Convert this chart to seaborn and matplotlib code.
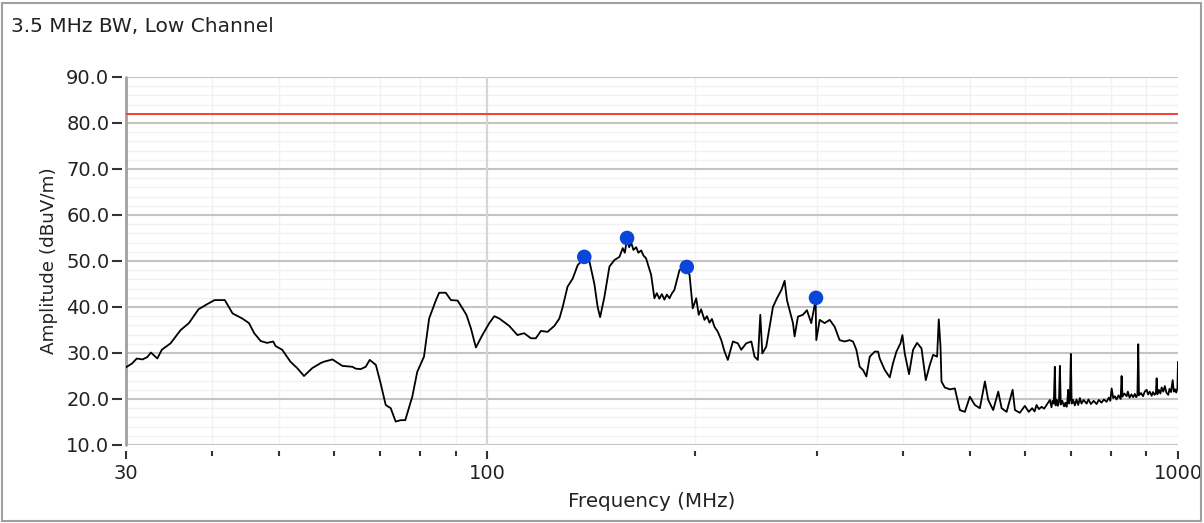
import numpy as np
import pandas as pd
import matplotlib
matplotlib.use("Agg")
import matplotlib.pyplot as plt
import seaborn as sns
from matplotlib.ticker import FixedLocator, FixedFormatter, NullFormatter
from matplotlib.patches import Rectangle

# ---------------- data ----------------
title_text = "3.5 MHz BW, Low Channel"
x_label = "Frequency (MHz)"
y_label = "Amplitude (dBuV/m)"

freq_mhz = [
    30.0, 30.6, 31.1, 31.7, 32.2, 32.6, 33.3, 33.8, 34.8, 36.0, 37.0, 38.2, 39.3, 40.3, 41.7,
    42.8, 44.2, 45.2, 46.0, 47.0, 48.0, 49.0, 49.4, 50.5, 51.9, 53.1, 54.3, 55.8, 57.4, 58.0,
    59.7, 60.7, 61.7, 63.8, 64.5, 65.6, 66.7, 67.6, 69.0, 70.1, 71.3, 72.5, 73.7, 75.0, 76.1,
    77.9, 79.2, 81.0, 82.4, 84.3, 85.2, 87.1, 88.6, 90.6, 92.1, 93.3, 94.7, 96.3, 98.4, 100.7,
    102.4, 104.1, 107.6, 110.6, 113.1, 115.7, 117.6, 119.6, 122.3, 125.1, 127.2, 128.6, 130.7,
    133.0, 135.2, 138.2, 140.6, 142.9, 144.5, 145.7, 147.8, 150.3, 152.8, 155.4,
    157.1, 158.2, 159.4, 160.5, 161.6, 162.8, 164.3, 165.5, 167.1, 168.3, 169.8, 172.7,
    174.6, 176.0, 177.5, 179.0, 180.5, 182.0, 183.6, 185.0, 186.6, 189.8, 193.0, 196.3,
    198.4, 200.7, 202.4, 204.0, 206.3, 208.0, 209.8, 211.5, 213.3, 215.7, 218.2, 220.6, 223.0,
    226.8, 230.6, 233.2, 237.1, 241.2, 243.8, 246.5, 248.5, 250.2, 253.5, 256.3, 259.2, 262.7,
    266.6, 269.5, 271.6, 274.0, 277.1, 278.6, 281.7, 286.4, 290.3, 294.5, 298.8, 299.5, 302.9,
    307.9, 313.2, 318.4, 323.7, 329.2, 334.7, 338.5, 342.3, 346.1, 350.0, 353.9, 357.9, 363.9,
    368.0, 370.0, 376.3, 382.6, 386.8, 391.2, 396.5, 399.1, 402.2, 408.0, 413.5, 419.1, 425.3,
    431.4, 437.2, 442.1, 448.0, 450.5, 453.1, 454.6, 459.6, 467.4, 475.3, 483.3, 491.4, 499.7,
    508.1, 516.6, 525.4, 531.2, 540.1, 549.3, 555.5, 564.8, 576.2, 580.7, 590.2, 600.2,
    608.0, 615.0, 620.0, 624.1, 629.0, 634.6, 640.0, 646.0, 652.4, 656.0, 658.0, 661.0, 663.3,
    665.0, 668.0, 670.0, 672.5, 674.6, 676.5, 680.0, 684.0, 687.0, 689.8, 691.5, 693.5, 695.5,
    697.5, 699.7, 701.5, 705.0, 709.0, 713.0, 717.0, 721.1, 725.0, 730.0, 737.4, 742.0, 748.0,
    755.0, 762.4, 768.0, 775.0, 781.0, 788.3, 794.0, 798.0, 801.5, 805.8, 810.0, 815.0, 820.0,
    826.0, 828.6, 831.0, 836.0, 842.7, 846.0, 851.0, 856.0, 861.3, 866.0, 870.0, 873.5, 875.9,
    878.0, 884.0, 890.0, 895.0, 900.7, 905.0, 910.0, 915.9, 920.0, 925.0, 929.0, 931.3, 933.5,
    938.0, 943.0, 947.0, 952.1, 957.0, 962.0, 968.0, 972.0, 977.0, 982.4, 986.0, 990.2, 994.0,
    998.0, 1000.0,
]

amp_dbuv = [
    26.9, 27.7, 28.8, 28.6, 29.1, 30.1, 28.8, 30.7, 32.1, 35.0, 36.5, 39.5, 40.6, 41.5, 41.5,
    38.6, 37.5, 36.5, 34.3, 32.6, 32.2, 32.5, 31.5, 30.7, 28.1, 26.7, 25.0, 26.7, 27.8, 28.1,
    28.6, 27.9, 27.2, 27.0, 26.6, 26.5, 27.0, 28.5, 27.4, 23.4, 18.7, 18.0, 15.1, 15.4, 15.4,
    20.5, 25.9, 29.2, 37.5, 41.5, 43.1, 43.1, 41.5, 41.4, 39.7, 38.3, 35.4, 31.2, 33.9, 36.5,
    38.0, 37.5, 35.9, 33.9, 34.3, 33.2, 33.2, 34.8, 34.6, 35.9, 37.5, 40.0, 44.4,
    46.2, 49.1, 50.6, 49.9, 45.1, 40.0, 37.8, 42.2, 48.8, 50.2, 50.9,
    52.8, 51.8, 54.9, 53.0, 54.0, 52.4, 53.0, 51.8, 52.3, 51.2, 50.6, 47.0,
    41.9, 43.0, 41.8, 42.8, 41.6, 42.7, 41.9, 42.9, 43.7, 48.0, 48.8, 47.0,
    39.7, 41.9, 38.3, 39.5, 37.2, 38.0, 36.6, 37.4, 35.7, 34.6, 32.8, 30.3, 28.5,
    32.5, 32.1, 30.7, 32.1, 32.5, 29.2, 28.5, 38.3, 29.9, 31.4, 35.7, 40.0, 41.9,
    43.7, 45.7, 41.5, 39.3, 36.5, 33.6, 37.9, 38.3, 39.3, 36.5, 41.5, 32.8, 37.2,
    36.5, 37.2, 35.7, 32.8, 32.5, 32.8, 32.5, 30.7, 27.0, 26.3, 24.9, 29.2, 30.3,
    30.3, 28.8, 26.3, 24.7, 27.8, 30.3, 32.1, 33.9, 29.9, 25.4, 30.7, 32.2, 31.0,
    24.1, 27.4, 29.6, 29.2, 37.3, 31.4, 23.8, 22.5, 22.1, 22.3, 17.6, 17.2, 20.5,
    18.7, 18.0, 23.8, 19.8, 17.6, 21.6, 18.0, 17.2, 22.0, 17.6, 17.0, 18.5,
    17.2, 18.0, 17.3, 18.7, 17.8, 18.3, 17.9, 18.8, 19.8, 18.2, 19.6, 19.0, 27.0,
    18.6, 19.8, 18.5, 19.5, 27.2, 18.8, 19.6, 18.4, 19.2, 18.3, 19.5, 22.0, 19.0,
    20.0, 29.8, 19.0, 19.8, 18.6, 19.9, 18.7, 20.2, 19.0, 19.8, 19.0, 19.9, 18.9,
    19.6, 18.9, 19.8, 19.2, 19.9, 19.4, 20.3, 19.6, 22.3, 20.2, 20.6, 19.9, 20.8,
    20.0, 25.0, 20.5, 21.2, 20.6, 21.6, 20.3, 21.0, 20.4, 21.1, 20.4, 20.9, 31.9,
    20.8, 21.3, 20.6, 21.6, 22.0, 21.0, 21.6, 20.7, 21.5, 20.9, 21.4, 24.5, 21.0,
    22.0, 21.2, 22.5, 21.6, 22.8, 21.4, 20.9, 22.2, 21.5, 24.1, 21.6, 22.1, 21.4,
    22.3, 28.1,
]
assert len(freq_mhz) == len(amp_dbuv)

peak_freq = [138.2, 159.4, 194.5, 299.2]
peak_amp = [50.9, 55.0, 48.7, 42.0]

limit_dbuv = 82.0

x_major = [30, 100, 1000]
x_major_labels = ["30", "100", "1000"]
x_minor = [40, 50, 60, 70, 80, 90, 200, 300, 400, 500, 600, 700, 800, 900]
y_major = [10, 20, 30, 40, 50, 60, 70, 80, 90]
y_minor = [12, 14, 16, 18, 22, 24, 26, 28, 32, 34, 36, 38, 42, 44, 46, 48, 52, 54, 56, 58,
           62, 64, 66, 68, 72, 74, 76, 78, 82, 84, 86, 88]

# ---------------- figure ----------------
sns.set_style("white")
plt.rcParams["font.family"] = ["DejaVu Sans"]

W, H = 1204, 523
fig = plt.figure(figsize=(W / 100, H / 100), dpi=100)
ax = fig.add_axes([126 / W, 1 - 445 / H, (1178 - 126) / W, (445 - 77) / H])

df = pd.DataFrame({"Frequency": freq_mhz, "Amplitude": amp_dbuv})
sns.lineplot(data=df, x="Frequency", y="Amplitude", ax=ax, color="black",
             linewidth=1.3, estimator=None, sort=False, zorder=4)
ax.axhline(limit_dbuv, color="#f5402f", linewidth=1.4, zorder=3)
sns.scatterplot(x=peak_freq, y=peak_amp, ax=ax, color="#0b46db", s=110,
                edgecolor="none", zorder=6)

ax.set_xscale("log")
ax.set_xlim(30, 1000)
ax.set_ylim(10, 90)

ax.xaxis.set_major_locator(FixedLocator(x_major))
ax.xaxis.set_major_formatter(FixedFormatter(x_major_labels))
ax.xaxis.set_minor_locator(FixedLocator(x_minor))
ax.xaxis.set_minor_formatter(NullFormatter())
ax.yaxis.set_major_locator(FixedLocator(y_major))
ax.yaxis.set_major_formatter(FixedFormatter([f"{v:.1f}" for v in y_major]))
ax.yaxis.set_minor_locator(FixedLocator(y_minor))

# grid
ax.grid(False)
ax.yaxis.grid(True, which="major", color="#c4c4c4", linewidth=1.5, zorder=1)
ax.yaxis.grid(True, which="minor", color="#f1f1f1", linewidth=1.0, zorder=0)
ax.xaxis.grid(True, which="minor", color="#f1f1f1", linewidth=1.0, zorder=0)
ax.set_axisbelow(True)
ax.yaxis.get_major_ticks()[0].gridline.set_visible(False)
ax.axvline(100, color="#d6d6d6", linewidth=1.6, zorder=1)
ax.axvline(30, color="#a0a0a0", linewidth=2.0, zorder=2, clip_on=False)

# spines
for s in ["top", "right", "bottom", "left"]:
    ax.spines[s].set_visible(False)
ax.spines["left"].set_position(("outward", 3))
ax.spines["bottom"].set_position(("outward", 4))

ax.tick_params(axis="y", which="major", direction="out", length=7, width=1.5,
               color="#333333", pad=2, labelsize=14, left=True, labelcolor="#222222")
ax.tick_params(axis="y", which="minor", left=False)
ax.tick_params(axis="x", which="major", direction="out", length=6, width=1.5,
               color="#333333", pad=4, labelsize=14, bottom=True, labelcolor="#222222")
ax.tick_params(axis="x", which="minor", direction="out", length=3.5, width=1.5,
               color="#333333", bottom=True)

ax.set_xlabel(x_label, fontsize=14.3, color="#222222", labelpad=6)
ax.set_ylabel(y_label, fontsize=13.2, color="#222222", labelpad=6)

fig.text(11 / W, 1 - 26 / H, title_text, fontsize=14.5, color="#222222",
         ha="left", va="center")

fig.add_artist(Rectangle((2 / W, 2 / H), 1199 / W, 518 / H, transform=fig.transFigure,
                         fill=False, edgecolor="#a0a0a0", linewidth=1.5))

fig.savefig("out.png", dpi=100)
